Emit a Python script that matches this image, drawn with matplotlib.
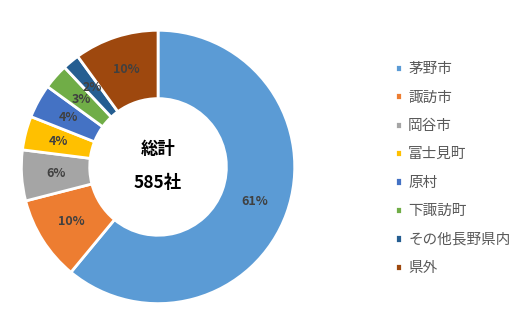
import matplotlib.pyplot as plt

plt.rcParams['font.family'] = ['Noto Sans CJK JP', 'DejaVu Sans']

# 事業所の所在地の内訳 (%)
areas = ['茅野市', '諏訪市', '岡谷市', '富士見町', '原村', '下諏訪町', 'その他長野県内', '県外']
shares = [61, 10, 6, 4, 4, 3, 2, 10]
colors = ['#5B9BD5', '#ED7D31', '#A5A5A5', '#FFC000', '#4472C4', '#70AD47', '#255E91', '#9E480E']
total = 585

fig = plt.figure(figsize=(5.16, 3.26), dpi=100)
ax = fig.add_axes([0.0388, 0.0644, 0.535, 0.847])

wedges, texts = ax.pie(shares, colors=colors, startangle=90, counterclock=False,
                       wedgeprops=dict(width=0.5, edgecolor='white', linewidth=2),
                       labels=[f'{s}%' for s in shares], labeldistance=0.75,
                       textprops=dict(color='#404040', fontsize=9, fontweight='bold',
                                      ha='center', va='center'))
ax.set_aspect('equal')
ax.set_xlim(-1.01, 1.01)
ax.set_ylim(-1.01, 1.01)

ax.text(0, 0.13, '総計', ha='center', va='center', fontsize=12.5, fontweight='bold')
ax.text(0, -0.12, f'{total}社', ha='center', va='center', fontsize=12.5, fontweight='bold')

fig.legend(wedges, areas, loc='upper left', bbox_to_anchor=(0.74, 0.85), frameon=False,
           handlelength=0.5, handleheight=0.5, handletextpad=0.4, labelspacing=0.99,
           prop=dict(size=10.5), labelcolor='#595959')

fig.savefig('out.png')
